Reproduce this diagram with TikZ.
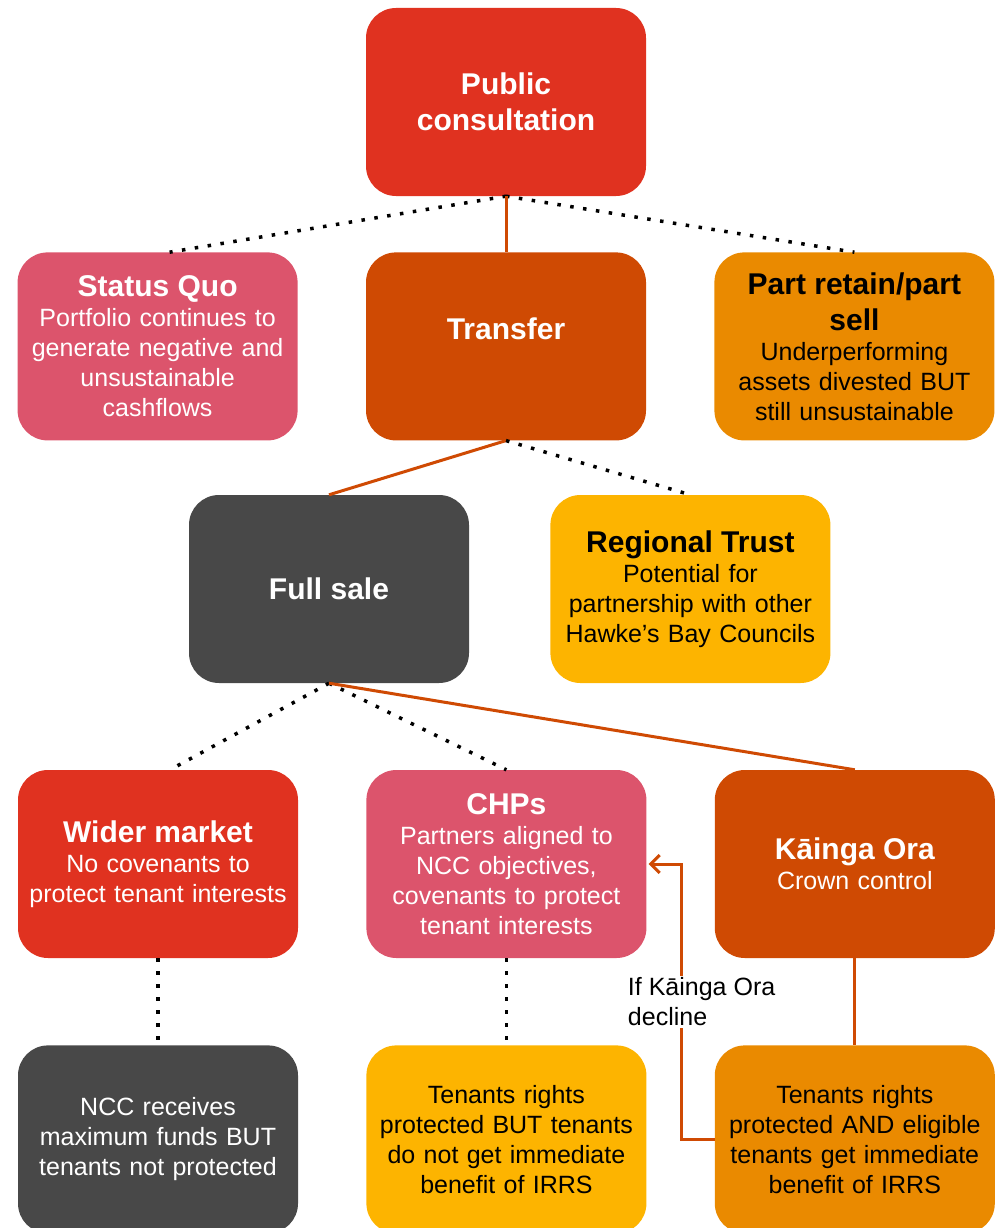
\documentclass[tikz,border=0pt]{standalone}
\usepackage{fontspec}
\setmainfont{Liberation Sans}
\usetikzlibrary{positioning,arrows.meta}
\definecolor{hbred}{HTML}{E03220}
\definecolor{hbpink}{HTML}{DC546C}
\definecolor{hbrust}{HTML}{CF4A03}
\definecolor{hborange}{HTML}{EA8A00}
\definecolor{hbyellow}{HTML}{FDB400}
\definecolor{hbgrey}{HTML}{484848}
\newcommand{\hd}{\fontsize{30}{36}\selectfont\bfseries}
\newcommand{\bd}{\fontsize{25}{30}\selectfont\mdseries}

\begin{document}
\begin{tikzpicture}[x=1pt,y=-1pt,
	box/.style={rounded corners=30pt, minimum width=280pt, minimum height=188pt,
		text width=272pt, align=center, inner sep=0pt, font=\bd},
	dark/.style={box, text=white},
	light/.style={box, text=black},
	dots/.style={line width=3.5pt, dash pattern=on 3.5pt off 9.5pt},
	link/.style={hbrust, line width=3pt}]
	\useasboundingbox (0,0) rectangle (999,1228);
	\clip (0,0) rectangle (999,1228);
	%% first rows
	\node[dark, fill=hbred, font=\hd] (pc) at (506,102) {Public\\ consultation};
	\node[dark, fill=hbrust, font=\hd, below=56pt of pc] (tr) {Transfer\\ \mbox{}};
	\node[dark, fill=hbpink, left=68pt of tr] (sq) {\hd Status Quo\\ \bd Portfolio continues to\\ generate negative and\\ unsustainable\\ cashflows};
	\node[light, fill=hborange, right=68pt of tr] (pr) {\hd Part retain/part\\ \hd sell\\ \bd Underperforming\\ assets divested BUT\\ still unsustainable};
	\node[dark, fill=hbgrey] (fs) at (329,589) {\hd Full sale};
	\node[light, fill=hbyellow, right=81pt of fs] (rt) {\hd Regional Trust\\ \bd Potential for\\ partnership with other\\ Hawke’s Bay Councils};
	%% buyers
	\node[dark, fill=hbred] (wm) at (158,864) {\hd Wider market\\ \bd No covenants to\\ protect tenant interests};
	\node[dark, fill=hbpink, right=68pt of wm] (chp) {\hd CHPs\\ \bd Partners aligned to\\ NCC objectives,\\ covenants to protect\\ tenant interests};
	\node[dark, fill=hbrust, right=68pt of chp] (ko) {\hd Kāinga Ora\\ \bd Crown control};
	%% outcomes
	\node[dark, fill=hbgrey, below=87pt of wm] (nr) {NCC receives\\ maximum funds BUT\\ tenants not protected};
	\node[light, fill=hbyellow, below=87pt of chp] (tn) {Tenants rights\\ protected BUT tenants\\ do not get immediate\\ benefit of IRRS};
	\node[light, fill=hborange, below=87pt of ko] (te) {Tenants rights\\ protected AND eligible\\ tenants get immediate\\ benefit of IRRS};
	% connectors
	\draw[dots] (pc.south) -- ([xshift=12pt]sq.north);
	\draw[dots] (pc.south) -- (pr.north);
	\draw[link] (pc.south) -- (tr.north);
	\draw[link] (tr.south) -- (fs.north);
	\draw[dots] (tr.south) -- (rt.north);
	\draw[dots] (fs.south) -- ([xshift=12pt]wm.north);
	\draw[dots] (fs.south) -- (chp.north);
	\draw[link] (fs.south) -- (ko.north);
	\draw[dots] (wm.south) -- (nr.north);
	\draw[dots] (chp.south) -- (tn.north);
	\draw[link] (ko.south) -- (te.north);
	\draw[link, -{Straight Barb[length=9pt, width=18pt, line width=3pt]}]
		(te.west) -| node[pos=0.75, xshift=20pt, fill=white, text=black,
			align=left, font=\bd, inner sep=2pt] (kd) {If Kāinga Ora\\ decline}
		([xshift=35pt]chp.east) -- ([xshift=2pt]chp.east);
\end{tikzpicture}
\end{document}
